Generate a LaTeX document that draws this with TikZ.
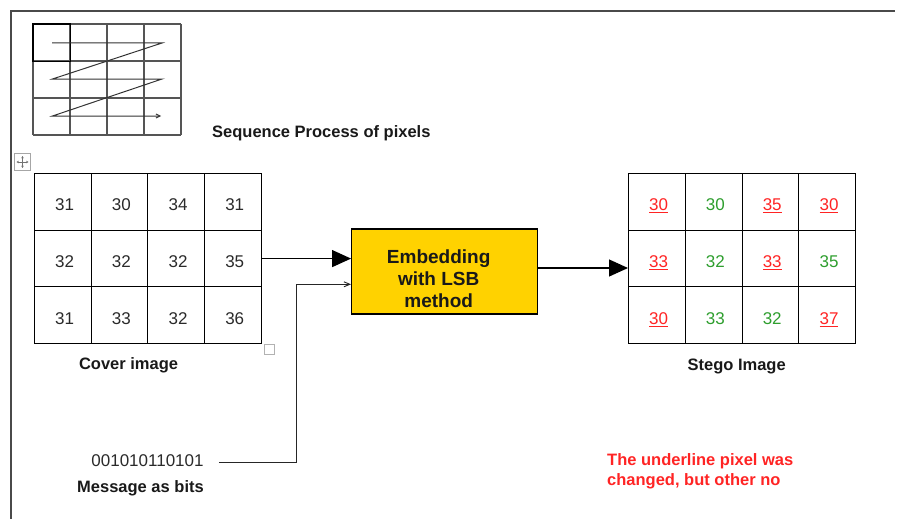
\documentclass[tikz,border=0pt]{standalone}
\usepackage{fontspec}
\setmainfont{Liberation Sans}
\usetikzlibrary{arrows.meta}

\definecolor{framegray}{HTML}{4A4A4A}
\definecolor{gridgray}{HTML}{555555}
\definecolor{lsbyellow}{HTML}{FFD200}
\definecolor{chgred}{HTML}{FF2424}
\definecolor{keepgreen}{HTML}{2E9E2E}
\definecolor{numgray}{HTML}{2A2A2A}

% changed pixel values are red and underlined, unchanged ones green
\newcommand\chg[1]{\textcolor{chgred}{\underline{#1}}}
\newcommand\keep[1]{\textcolor{keepgreen}{#1}}

\begin{document}
\begin{tikzpicture}[x=1pt,y=-1pt,
  cell/.style={draw=black, line width=1.05pt, minimum width=56.7pt,
    minimum height=56.7pt, inner sep=0pt, anchor=north west,
    text height=18pt, text depth=0pt,
    execute at begin node={\hspace*{3.5pt}},
    text=numgray, font=\fontsize{17}{20}\selectfont},
  lbl/.style={inner sep=0pt, font=\fontsize{16.5}{20}\selectfont\bfseries, text=black!90},
  procbox/.style={draw=black, line width=1.3pt, fill=lsbyellow,
    minimum width=185.6pt, minimum height=85pt, inner sep=0pt},
  conn/.style={draw=black, line width=1.2pt},
  bigtip/.style={-{Triangle[length=19pt,width=17pt]}},
  smalltip/.style={-{Straight Barb[length=6pt,width=5pt,line width=0.9pt]}},
  thin grid/.style={draw=gridgray, line width=1.1pt}]

\useasboundingbox (0,0) rectangle (899,519);

% page frame
\draw[framegray, line width=1.4pt] (11,519) -- (11,11) -- (895,11);

% scan order sketch
\foreach \xx in {33,70,107,144,181} \draw[thin grid] (\xx,24) -- (\xx,135);
\foreach \yy in {24,61,98,135} \draw[thin grid] (33,\yy) -- (181,\yy);
\draw[black, line width=1.6pt] (33,24) rectangle (70.5,61.5);
\draw[black!80, line width=1pt, -{Straight Barb[length=4pt,width=4pt]}]
  (52,43) -- (162,43) -- (52.5,79) -- (162,79) -- (52.5,116) -- (161,116);
\node[lbl, anchor=base west] (seqlbl) at (212,137) {Sequence Process of pixels};

% table move handle
\node[draw=gray!70, line width=0.8pt, minimum size=16.5pt, inner sep=0pt] (handle) at (22.5,162) {};
\draw[gray!90!black, line width=0.6pt, {Stealth[length=2.4pt,width=2.6pt]}-{Stealth[length=2.4pt,width=2.6pt]}]
  ([xshift=-6pt]handle.center) -- ([xshift=6pt]handle.center);
\draw[gray!90!black, line width=0.6pt, {Stealth[length=2.4pt,width=2.6pt]}-{Stealth[length=2.4pt,width=2.6pt]}]
  ([yshift=-6pt]handle.center) -- ([yshift=6pt]handle.center);

% cover image
\foreach \row [count=\r] in {{31,30,34,31},{32,32,32,35},{31,33,32,36}} {
  \foreach \v [count=\c] in \row {
    \node[cell] (cov-\r-\c) at ({34+(\c-1)*56.7},{173+(\r-1)*56.7}) {\v};
  }
}
\node[draw=gray!60, line width=0.8pt, minimum size=10pt, inner sep=0pt] (sizer) at (269,349) {};
\node[lbl, anchor=base] (covlbl) at (128.6,369) {Cover image};

% embedding step
\node[procbox] (emb) at (444.5,271.5) {};
\node[align=center, inner sep=0pt, font=\fontsize{19}{22}\selectfont\bfseries, text=black!90]
  (embtxt) at ([xshift=-5.8pt,yshift=-6.9pt]emb.center) {Embedding\\with LSB\\method};

% stego image
\foreach \row [count=\r] in {{\chg{30},\keep{30},\chg{35},\chg{30}},
                              {\chg{33},\keep{32},\chg{33},\keep{35}},
                              {\chg{30},\keep{33},\keep{32},\chg{37}}} {
  \foreach \v [count=\c] in \row {
    \node[cell] (stg-\r-\c) at ({628+(\c-1)*56.8},{173+(\r-1)*56.7}) {\v};
  }
}
\node[lbl, anchor=base] (stglbl) at (736.7,370) {Stego Image};

% message bits
\node[inner sep=0pt, anchor=base, font=\fontsize{17}{20}\selectfont, text=numgray] (bits) at (147.5,466) {001010110101};
\node[lbl, anchor=base] (msglbl) at (140.5,492.7) {Message as bits};

% note
\node[inner sep=0pt, anchor=north west, align=left, text=chgred,
  font=\fontsize{16.5}{20}\selectfont\bfseries] (note) at (607,453.8)
  {The underline pixel was\\changed, but other no};

% connectors
\draw[conn, bigtip] (cov-2-4.east) -- (cov-2-4.east -| emb.west);
\draw[conn, bigtip] ([yshift=3.5pt]emb.east) coordinate (eout) -- (eout -| stg-2-1.west);
\draw[conn, draw=black!85, smalltip] ([xshift=15pt,yshift=-2pt]bits.east) -- ++(78,0)
  |- ([yshift=-12.8pt]emb.west);
\end{tikzpicture}
\end{document}
